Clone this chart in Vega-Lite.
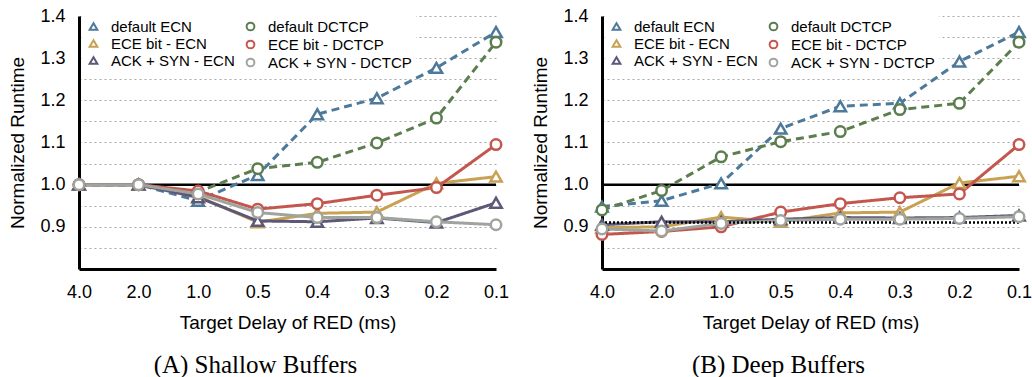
{
  "$schema": "https://vega.github.io/schema/vega-lite/v6.json",
  "background": "white",
  "padding": {"left": 8, "top": 7, "right": 5, "bottom": 5},
  "config": {
    "view": {"stroke": null},
    "font": "Liberation Sans",
    "axis": {
      "labelFont": "Liberation Sans",
      "labelFontSize": 18,
      "labelColor": "black",
      "titleFont": "Liberation Sans",
      "titleFontSize": 19,
      "titleFontWeight": "normal",
      "titleColor": "black",
      "domainColor": "black",
      "domainWidth": 3,
      "ticks": false,
      "gridColor": "#a9a9a9",
      "gridWidth": 1.2
    },
    "legend": {
      "title": null,
      "orient": "none",
      "legendY": -1,
      "fillColor": "white",
      "padding": 4,
      "symbolSize": 60,
      "symbolStrokeWidth": 2,
      "symbolFillColor": "white",
      "labelFont": "Liberation Sans",
      "labelFontSize": 15,
      "labelColor": "black",
      "labelOffset": 10,
      "labelLimit": 300,
      "rowPadding": 1
    },
    "title": {
      "orient": "bottom",
      "anchor": "middle",
      "frame": "group",
      "dx": -32,
      "font": "Liberation Serif",
      "fontSize": 25,
      "fontWeight": "normal",
      "color": "black",
      "offset": 21
    }
  },
  "datasets": {
    "runtime": [
      {"buffer": "Shallow", "series": "default ECN", "delay": "4.0", "runtime": 1.0},
      {"buffer": "Shallow", "series": "default ECN", "delay": "2.0", "runtime": 1.0},
      {"buffer": "Shallow", "series": "default ECN", "delay": "1.0", "runtime": 0.962},
      {"buffer": "Shallow", "series": "default ECN", "delay": "0.5", "runtime": 1.023},
      {"buffer": "Shallow", "series": "default ECN", "delay": "0.4", "runtime": 1.167},
      {"buffer": "Shallow", "series": "default ECN", "delay": "0.3", "runtime": 1.205},
      {"buffer": "Shallow", "series": "default ECN", "delay": "0.2", "runtime": 1.277},
      {"buffer": "Shallow", "series": "default ECN", "delay": "0.1", "runtime": 1.362},
      {"buffer": "Shallow", "series": "default DCTCP", "delay": "4.0", "runtime": 1.0},
      {"buffer": "Shallow", "series": "default DCTCP", "delay": "2.0", "runtime": 1.0},
      {"buffer": "Shallow", "series": "default DCTCP", "delay": "1.0", "runtime": 0.983},
      {"buffer": "Shallow", "series": "default DCTCP", "delay": "0.5", "runtime": 1.038},
      {"buffer": "Shallow", "series": "default DCTCP", "delay": "0.4", "runtime": 1.053},
      {"buffer": "Shallow", "series": "default DCTCP", "delay": "0.3", "runtime": 1.099},
      {"buffer": "Shallow", "series": "default DCTCP", "delay": "0.2", "runtime": 1.158},
      {"buffer": "Shallow", "series": "default DCTCP", "delay": "0.1", "runtime": 1.338},
      {"buffer": "Shallow", "series": "ECE bit - ECN", "delay": "4.0", "runtime": 1.0},
      {"buffer": "Shallow", "series": "ECE bit - ECN", "delay": "2.0", "runtime": 1.0},
      {"buffer": "Shallow", "series": "ECE bit - ECN", "delay": "1.0", "runtime": 0.972},
      {"buffer": "Shallow", "series": "ECE bit - ECN", "delay": "0.5", "runtime": 0.911},
      {"buffer": "Shallow", "series": "ECE bit - ECN", "delay": "0.4", "runtime": 0.932},
      {"buffer": "Shallow", "series": "ECE bit - ECN", "delay": "0.3", "runtime": 0.935},
      {"buffer": "Shallow", "series": "ECE bit - ECN", "delay": "0.2", "runtime": 1.003},
      {"buffer": "Shallow", "series": "ECE bit - ECN", "delay": "0.1", "runtime": 1.019},
      {"buffer": "Shallow", "series": "ECE bit - DCTCP", "delay": "4.0", "runtime": 1.0},
      {"buffer": "Shallow", "series": "ECE bit - DCTCP", "delay": "2.0", "runtime": 1.0},
      {"buffer": "Shallow", "series": "ECE bit - DCTCP", "delay": "1.0", "runtime": 0.985},
      {"buffer": "Shallow", "series": "ECE bit - DCTCP", "delay": "0.5", "runtime": 0.942},
      {"buffer": "Shallow", "series": "ECE bit - DCTCP", "delay": "0.4", "runtime": 0.955},
      {"buffer": "Shallow", "series": "ECE bit - DCTCP", "delay": "0.3", "runtime": 0.975},
      {"buffer": "Shallow", "series": "ECE bit - DCTCP", "delay": "0.2", "runtime": 0.993},
      {"buffer": "Shallow", "series": "ECE bit - DCTCP", "delay": "0.1", "runtime": 1.095},
      {"buffer": "Shallow", "series": "ACK + SYN - ECN", "delay": "4.0", "runtime": 1.0},
      {"buffer": "Shallow", "series": "ACK + SYN - ECN", "delay": "2.0", "runtime": 1.0},
      {"buffer": "Shallow", "series": "ACK + SYN - ECN", "delay": "1.0", "runtime": 0.970},
      {"buffer": "Shallow", "series": "ACK + SYN - ECN", "delay": "0.5", "runtime": 0.914},
      {"buffer": "Shallow", "series": "ACK + SYN - ECN", "delay": "0.4", "runtime": 0.912},
      {"buffer": "Shallow", "series": "ACK + SYN - ECN", "delay": "0.3", "runtime": 0.921},
      {"buffer": "Shallow", "series": "ACK + SYN - ECN", "delay": "0.2", "runtime": 0.910},
      {"buffer": "Shallow", "series": "ACK + SYN - ECN", "delay": "0.1", "runtime": 0.957},
      {"buffer": "Shallow", "series": "ACK + SYN - DCTCP", "delay": "4.0", "runtime": 1.0},
      {"buffer": "Shallow", "series": "ACK + SYN - DCTCP", "delay": "2.0", "runtime": 1.0},
      {"buffer": "Shallow", "series": "ACK + SYN - DCTCP", "delay": "1.0", "runtime": 0.978},
      {"buffer": "Shallow", "series": "ACK + SYN - DCTCP", "delay": "0.5", "runtime": 0.934},
      {"buffer": "Shallow", "series": "ACK + SYN - DCTCP", "delay": "0.4", "runtime": 0.922},
      {"buffer": "Shallow", "series": "ACK + SYN - DCTCP", "delay": "0.3", "runtime": 0.922},
      {"buffer": "Shallow", "series": "ACK + SYN - DCTCP", "delay": "0.2", "runtime": 0.912},
      {"buffer": "Shallow", "series": "ACK + SYN - DCTCP", "delay": "0.1", "runtime": 0.905},

      {"buffer": "Deep", "series": "default ECN", "delay": "4.0", "runtime": 0.948},
      {"buffer": "Deep", "series": "default ECN", "delay": "2.0", "runtime": 0.962},
      {"buffer": "Deep", "series": "default ECN", "delay": "1.0", "runtime": 1.003},
      {"buffer": "Deep", "series": "default ECN", "delay": "0.5", "runtime": 1.133},
      {"buffer": "Deep", "series": "default ECN", "delay": "0.4", "runtime": 1.186},
      {"buffer": "Deep", "series": "default ECN", "delay": "0.3", "runtime": 1.193},
      {"buffer": "Deep", "series": "default ECN", "delay": "0.2", "runtime": 1.292},
      {"buffer": "Deep", "series": "default ECN", "delay": "0.1", "runtime": 1.362},
      {"buffer": "Deep", "series": "default DCTCP", "delay": "4.0", "runtime": 0.940},
      {"buffer": "Deep", "series": "default DCTCP", "delay": "2.0", "runtime": 0.986},
      {"buffer": "Deep", "series": "default DCTCP", "delay": "1.0", "runtime": 1.066},
      {"buffer": "Deep", "series": "default DCTCP", "delay": "0.5", "runtime": 1.102},
      {"buffer": "Deep", "series": "default DCTCP", "delay": "0.4", "runtime": 1.126},
      {"buffer": "Deep", "series": "default DCTCP", "delay": "0.3", "runtime": 1.178},
      {"buffer": "Deep", "series": "default DCTCP", "delay": "0.2", "runtime": 1.193},
      {"buffer": "Deep", "series": "default DCTCP", "delay": "0.1", "runtime": 1.338},
      {"buffer": "Deep", "series": "ECE bit - ECN", "delay": "4.0", "runtime": 0.898},
      {"buffer": "Deep", "series": "ECE bit - ECN", "delay": "2.0", "runtime": 0.900},
      {"buffer": "Deep", "series": "ECE bit - ECN", "delay": "1.0", "runtime": 0.923},
      {"buffer": "Deep", "series": "ECE bit - ECN", "delay": "0.5", "runtime": 0.912},
      {"buffer": "Deep", "series": "ECE bit - ECN", "delay": "0.4", "runtime": 0.933},
      {"buffer": "Deep", "series": "ECE bit - ECN", "delay": "0.3", "runtime": 0.935},
      {"buffer": "Deep", "series": "ECE bit - ECN", "delay": "0.2", "runtime": 1.004},
      {"buffer": "Deep", "series": "ECE bit - ECN", "delay": "0.1", "runtime": 1.020},
      {"buffer": "Deep", "series": "ECE bit - DCTCP", "delay": "4.0", "runtime": 0.882},
      {"buffer": "Deep", "series": "ECE bit - DCTCP", "delay": "2.0", "runtime": 0.889},
      {"buffer": "Deep", "series": "ECE bit - DCTCP", "delay": "1.0", "runtime": 0.900},
      {"buffer": "Deep", "series": "ECE bit - DCTCP", "delay": "0.5", "runtime": 0.935},
      {"buffer": "Deep", "series": "ECE bit - DCTCP", "delay": "0.4", "runtime": 0.955},
      {"buffer": "Deep", "series": "ECE bit - DCTCP", "delay": "0.3", "runtime": 0.969},
      {"buffer": "Deep", "series": "ECE bit - DCTCP", "delay": "0.2", "runtime": 0.978},
      {"buffer": "Deep", "series": "ECE bit - DCTCP", "delay": "0.1", "runtime": 1.095},
      {"buffer": "Deep", "series": "ACK + SYN - ECN", "delay": "4.0", "runtime": 0.905},
      {"buffer": "Deep", "series": "ACK + SYN - ECN", "delay": "2.0", "runtime": 0.912},
      {"buffer": "Deep", "series": "ACK + SYN - ECN", "delay": "1.0", "runtime": 0.912},
      {"buffer": "Deep", "series": "ACK + SYN - ECN", "delay": "0.5", "runtime": 0.918},
      {"buffer": "Deep", "series": "ACK + SYN - ECN", "delay": "0.4", "runtime": 0.922},
      {"buffer": "Deep", "series": "ACK + SYN - ECN", "delay": "0.3", "runtime": 0.921},
      {"buffer": "Deep", "series": "ACK + SYN - ECN", "delay": "0.2", "runtime": 0.922},
      {"buffer": "Deep", "series": "ACK + SYN - ECN", "delay": "0.1", "runtime": 0.927},
      {"buffer": "Deep", "series": "ACK + SYN - DCTCP", "delay": "4.0", "runtime": 0.895},
      {"buffer": "Deep", "series": "ACK + SYN - DCTCP", "delay": "2.0", "runtime": 0.890},
      {"buffer": "Deep", "series": "ACK + SYN - DCTCP", "delay": "1.0", "runtime": 0.908},
      {"buffer": "Deep", "series": "ACK + SYN - DCTCP", "delay": "0.5", "runtime": 0.915},
      {"buffer": "Deep", "series": "ACK + SYN - DCTCP", "delay": "0.4", "runtime": 0.918},
      {"buffer": "Deep", "series": "ACK + SYN - DCTCP", "delay": "0.3", "runtime": 0.918},
      {"buffer": "Deep", "series": "ACK + SYN - DCTCP", "delay": "0.2", "runtime": 0.920},
      {"buffer": "Deep", "series": "ACK + SYN - DCTCP", "delay": "0.1", "runtime": 0.924}
    ],
    "levels": [
      {"buffer": "Shallow", "kind": "baseline", "level": 1.0},
      {"buffer": "Deep", "kind": "baseline", "level": 1.0},
      {"buffer": "Deep", "kind": "floor", "level": 0.91}
    ]
  },
  "spacing": 22,
  "resolve": {
    "scale": {"x": "independent", "y": "independent", "color": "independent", "strokeDash": "independent"}
  },
  "hconcat": [
    {
      "width": 417,
      "height": 253,
      "title": {"text": "(A) Shallow Buffers"},
      "encoding": {
        "x": {
          "field": "delay",
          "type": "ordinal",
          "title": "Target Delay of RED (ms)",
          "scale": {"domain": ["4.0", "2.0", "1.0", "0.5", "0.4", "0.3", "0.2", "0.1"], "type": "point", "padding": 0},
          "axis": {"labelAngle": 0, "labelPadding": 14, "titlePadding": 12, "gridDash": [4, 4]}
        }
      },
      "resolve": {"scale": {"y": "independent", "color": "independent"}, "axis": {"y": "independent"}},
      "layer": [
        {
          "data": {"name": "levels"},
          "transform": [{"filter": "datum.buffer == 'Shallow' && datum.kind == 'baseline'"}],
          "mark": {"type": "rule", "color": "black", "strokeWidth": 2.5},
          "encoding": {
            "x": null,
            "y": {"field": "level", "type": "quantitative",
              "scale": {"domain": [0.8, 1.4], "nice": false, "zero": false},
              "axis": {"orient": "right", "values": [0.85, 0.95, 1.05, 1.15, 1.25, 1.35], "labels": false, "domain": false, "ticks": false, "title": null, "grid": true, "gridDash": [2, 3]}}
          }
        },
        {
          "data": {"name": "runtime"},
          "transform": [{"filter": "datum.buffer == 'Shallow'"}],
          "mark": {"type": "line", "strokeWidth": 3},
          "encoding": {
            "y": {"field": "runtime", "type": "quantitative", "title": "Normalized Runtime",
              "scale": {"domain": [0.8, 1.4], "nice": false, "zero": false},
              "axis": {"orient": "left", "values": [0.9, 1.0, 1.1, 1.2, 1.3, 1.4], "format": ".1f", "grid": true, "gridDash": [2, 3], "labelPadding": 14, "titlePadding": 12}},
            "color": {"field": "series", "type": "nominal", "legend": null,
              "scale": {"domain": ["default ECN", "default DCTCP", "ECE bit - ECN", "ECE bit - DCTCP", "ACK + SYN - ECN", "ACK + SYN - DCTCP"],
                "range": ["#4d7a9b", "#5c7d4e", "#c9a153", "#c4574d", "#5e5878", "#9fa59e"]}},
            "strokeDash": {"field": "series", "type": "nominal", "legend": null,
              "scale": {"domain": ["default ECN", "default DCTCP", "ECE bit - ECN", "ECE bit - DCTCP", "ACK + SYN - ECN", "ACK + SYN - DCTCP"],
                "range": [[8, 5], [8, 5], [1, 0], [1, 0], [1, 0], [1, 0]]}}
          }
        },
        {
          "data": {"name": "runtime"},
          "transform": [{"filter": "datum.buffer == 'Shallow' && indexof(datum.series, 'ECN') >= 0"}],
          "mark": {"type": "point", "shape": "triangle-up", "filled": false, "fill": "white", "strokeWidth": 2.5, "size": 130, "opacity": 1},
          "encoding": {
            "y": {"field": "runtime", "type": "quantitative", "axis": null,
              "scale": {"domain": [0.8, 1.4], "nice": false, "zero": false}},
            "color": {"field": "series", "type": "nominal",
              "legend": {"orient": "none", "legendX": 3, "legendY": -1, "symbolType": "triangle-up"},
              "scale": {"domain": ["default ECN", "ECE bit - ECN", "ACK + SYN - ECN"],
                "range": ["#4d7a9b", "#c9a153", "#5e5878"]}}
          }
        },
        {
          "data": {"name": "runtime"},
          "transform": [{"filter": "datum.buffer == 'Shallow' && indexof(datum.series, 'DCTCP') >= 0"}],
          "mark": {"type": "point", "shape": "circle", "filled": false, "fill": "white", "strokeWidth": 2.5, "size": 110, "opacity": 1},
          "encoding": {
            "y": {"field": "runtime", "type": "quantitative", "axis": null,
              "scale": {"domain": [0.8, 1.4], "nice": false, "zero": false}},
            "color": {"field": "series", "type": "nominal",
              "legend": {"orient": "none", "legendX": 160, "legendY": -1, "symbolType": "circle"},
              "scale": {"domain": ["default DCTCP", "ECE bit - DCTCP", "ACK + SYN - DCTCP"],
                "range": ["#5c7d4e", "#c4574d", "#9fa59e"]}}
          }
        }
      ]
    },
    {
      "width": 417,
      "height": 253,
      "title": {"text": "(B) Deep Buffers"},
      "encoding": {
        "x": {
          "field": "delay",
          "type": "ordinal",
          "title": "Target Delay of RED (ms)",
          "scale": {"domain": ["4.0", "2.0", "1.0", "0.5", "0.4", "0.3", "0.2", "0.1"], "type": "point", "padding": 0},
          "axis": {"labelAngle": 0, "labelPadding": 14, "titlePadding": 12, "gridDash": [4, 4]}
        }
      },
      "resolve": {"scale": {"y": "independent", "color": "independent"}, "axis": {"y": "independent"}},
      "layer": [
        {
          "data": {"name": "levels"},
          "transform": [{"filter": "datum.buffer == 'Deep' && datum.kind == 'baseline'"}],
          "mark": {"type": "rule", "color": "black", "strokeWidth": 2.5},
          "encoding": {
            "x": null,
            "y": {"field": "level", "type": "quantitative",
              "scale": {"domain": [0.8, 1.4], "nice": false, "zero": false},
              "axis": {"orient": "right", "values": [0.85, 0.95, 1.05, 1.15, 1.25, 1.35], "labels": false, "domain": false, "ticks": false, "title": null, "grid": true, "gridDash": [2, 3]}}
          }
        },
        {
          "data": {"name": "runtime"},
          "transform": [{"filter": "datum.buffer == 'Deep'"}],
          "mark": {"type": "line", "strokeWidth": 3},
          "encoding": {
            "y": {"field": "runtime", "type": "quantitative", "title": "Normalized Runtime",
              "scale": {"domain": [0.8, 1.4], "nice": false, "zero": false},
              "axis": {"orient": "left", "values": [0.9, 1.0, 1.1, 1.2, 1.3, 1.4], "format": ".1f", "grid": true, "gridDash": [2, 3], "labelPadding": 14, "titlePadding": 12}},
            "color": {"field": "series", "type": "nominal", "legend": null,
              "scale": {"domain": ["default ECN", "default DCTCP", "ECE bit - ECN", "ECE bit - DCTCP", "ACK + SYN - ECN", "ACK + SYN - DCTCP"],
                "range": ["#4d7a9b", "#5c7d4e", "#c9a153", "#c4574d", "#5e5878", "#9fa59e"]}},
            "strokeDash": {"field": "series", "type": "nominal", "legend": null,
              "scale": {"domain": ["default ECN", "default DCTCP", "ECE bit - ECN", "ECE bit - DCTCP", "ACK + SYN - ECN", "ACK + SYN - DCTCP"],
                "range": [[8, 5], [8, 5], [1, 0], [1, 0], [1, 0], [1, 0]]}}
          }
        },
        {
          "data": {"name": "levels"},
          "transform": [{"filter": "datum.buffer == 'Deep' && datum.kind == 'floor'"}],
          "mark": {"type": "rule", "color": "black", "strokeWidth": 2.5, "strokeDash": [2, 2]},
          "encoding": {
            "x": null,
            "y": {"field": "level", "type": "quantitative", "axis": null,
              "scale": {"domain": [0.8, 1.4], "nice": false, "zero": false}}
          }
        },
        {
          "data": {"name": "runtime"},
          "transform": [{"filter": "datum.buffer == 'Deep' && indexof(datum.series, 'ECN') >= 0"}],
          "mark": {"type": "point", "shape": "triangle-up", "filled": false, "fill": "white", "strokeWidth": 2.5, "size": 130, "opacity": 1},
          "encoding": {
            "y": {"field": "runtime", "type": "quantitative", "axis": null,
              "scale": {"domain": [0.8, 1.4], "nice": false, "zero": false}},
            "color": {"field": "series", "type": "nominal",
              "legend": {"orient": "none", "legendX": 3, "legendY": -1, "symbolType": "triangle-up"},
              "scale": {"domain": ["default ECN", "ECE bit - ECN", "ACK + SYN - ECN"],
                "range": ["#4d7a9b", "#c9a153", "#5e5878"]}}
          }
        },
        {
          "data": {"name": "runtime"},
          "transform": [{"filter": "datum.buffer == 'Deep' && indexof(datum.series, 'DCTCP') >= 0"}],
          "mark": {"type": "point", "shape": "circle", "filled": false, "fill": "white", "strokeWidth": 2.5, "size": 110, "opacity": 1},
          "encoding": {
            "y": {"field": "runtime", "type": "quantitative", "axis": null,
              "scale": {"domain": [0.8, 1.4], "nice": false, "zero": false}},
            "color": {"field": "series", "type": "nominal",
              "legend": {"orient": "none", "legendX": 160, "legendY": -1, "symbolType": "circle"},
              "scale": {"domain": ["default DCTCP", "ECE bit - DCTCP", "ACK + SYN - DCTCP"],
                "range": ["#5c7d4e", "#c4574d", "#9fa59e"]}}
          }
        }
      ]
    }
  ]
}
